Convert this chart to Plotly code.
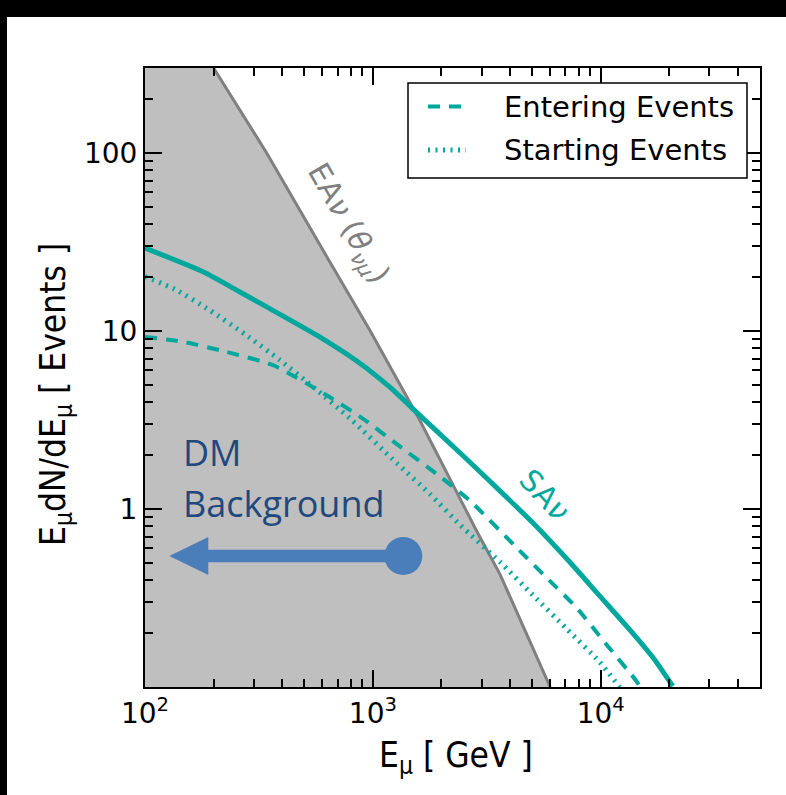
import numpy as np
import plotly.graph_objects as go

# ---------------- data ----------------
# Effective-area boundary EA_nu(theta_nu_mu)
ea_energy = [200, 342, 627, 970, 1607, 2850, 3606, 6000]
ea_events = [300, 100, 26.2, 10.1, 3.15, 0.755, 0.432, 0.1]

# Total signal SA_nu
sa_energy = [100, 180, 261, 391, 586, 877, 1187, 1607, 2481, 3717, 5032, 7096, 9900, 13810, 16900, 20700]
sa_events = [29.2, 21.5, 16.55, 12.4, 9.23, 6.59, 4.83, 3.355, 1.997, 1.22, 0.837, 0.525, 0.3247, 0.2009, 0.1472, 0.101]

# Entering events
ent_energy = [100, 147, 228, 365, 627, 907, 1270, 1903, 2663, 4266, 5779, 7825, 10590, 14340, 14960]
ent_events = [9.26, 8.68, 7.62, 6.42, 4.35, 3.21, 2.32, 1.575, 1.114, 0.608, 0.412, 0.279, 0.1735, 0.108, 0.099]

# Starting events
sta_energy = [100, 135.4, 192.8, 274.5, 391, 556.6, 792.7, 1274, 1778, 2408, 3606, 5032, 7096, 9900, 12110]
sta_events = [20.2, 17.13, 13.05, 9.59, 6.85, 4.76, 3.227, 1.807, 1.215, 0.816, 0.505, 0.329, 0.2117, 0.1379, 0.0997]

x_range = [100, 5e4]
y_range = [0.1, 300]

x_major = [100, 1000, 10000]
x_major_text = ["10<sup>2</sup>", "10<sup>3</sup>", "10<sup>4</sup>"]
y_major = [1, 10, 100]
y_major_text = ["1", "10", "100"]

legend_labels = ["Entering Events", "Starting Events"]

TEAL = "#00A79D"
GREY_LINE = "#808080"
GREY_FILL = "#BFBFBF"
DM_TEXT = "#1F497D"
DM_ARROW = "#4A7EBB"
ENT_DASH = "12px,9px"
STA_DASH = "2px,5.5px"

# ---------------- geometry helpers ----------------
W, H = 786, 795
L, R, T, B = 145, 26, 68, 108
PW, PH = W - L - R, H - T - B


def px(x):
    return (x - L) / PW


def py(y):
    return (H - B - y) / PH


def minor_ticks(lo, hi):
    out = []
    d = 10.0 ** np.floor(np.log10(lo))
    while d < hi:
        for m in range(2, 10):
            v = m * d
            if lo < v < hi:
                out.append(v)
        d *= 10
    return out


fig = go.Figure()

# shaded region below the effective-area boundary
fig.add_trace(go.Scatter(
    x=ea_energy + [x_range[0] * 0.9, x_range[0] * 0.9],
    y=ea_events + [y_range[0] * 0.9, y_range[1] * 1.1],
    fill="toself", fillcolor=GREY_FILL, mode="none",
    showlegend=False, hoverinfo="skip"))
fig.add_trace(go.Scatter(
    x=ea_energy, y=ea_events, mode="lines",
    line=dict(color=GREY_LINE, width=3), showlegend=False))

fig.add_trace(go.Scatter(
    x=sa_energy, y=sa_events, mode="lines",
    line=dict(color=TEAL, width=5, shape="spline", smoothing=0.6)))
fig.add_trace(go.Scatter(
    x=ent_energy, y=ent_events, mode="lines", name=legend_labels[0],
    line=dict(color=TEAL, width=4, dash=ENT_DASH, shape="spline", smoothing=0.6)))
fig.add_trace(go.Scatter(
    x=sta_energy, y=sta_events, mode="lines", name=legend_labels[1],
    line=dict(color=TEAL, width=5, dash=STA_DASH, shape="spline", smoothing=0.6)))

axis_common = dict(
    type="log", showline=True, linecolor="black", linewidth=2,
    mirror="allticks", ticks="inside", ticklen=17, tickwidth=1.5,
    tickcolor="black", showgrid=False, zeroline=False,
    tickfont=dict(family="DejaVu Sans", size=28, color="black"),
)

fig.update_xaxes(
    range=[np.log10(x_range[0]), np.log10(x_range[1])],
    tickmode="array", tickvals=x_major, ticktext=x_major_text,
    minor=dict(tickmode="array", tickvals=minor_ticks(*x_range), ticks="inside",
               ticklen=8, tickwidth=1.5, tickcolor="black", showgrid=False),
    **axis_common)
fig.update_yaxes(
    range=[np.log10(y_range[0]), np.log10(y_range[1])],
    tickmode="array", tickvals=y_major, ticktext=y_major_text,
    minor=dict(tickmode="array", tickvals=minor_ticks(*y_range) + [200], ticks="inside",
               ticklen=8, tickwidth=1.5, tickcolor="black", showgrid=False),
    **axis_common)


def label(text, x, y, size, color, angle=0, family="DejaVu Sans", xanchor="center"):
    return dict(text=text, x=px(x), y=py(y), xref="paper", yref="paper",
                xanchor=xanchor, yanchor="middle", textangle=angle, showarrow=False,
                font=dict(family=family, size=size, color=color))


title_font = "DejaVu Sans Condensed, DejaVu Sans"
annotations = [
    label("E<sub>μ</sub> [ GeV ]", 456, 757, 35, "black", family=title_font),
    label("E<sub>μ</sub>dN/dE<sub>μ</sub> [ Events ]", 55, 395, 35, "black", angle=-90, family=title_font),
    label("EA<i>ν</i> (<i>θ</i><sub><i>νμ</i></sub>)", 347, 224, 30, GREY_LINE, angle=60),
    label("SA<i>ν</i>", 544, 495, 30, TEAL, angle=47),
    label("DM", 181, 453, 36, DM_TEXT, family="Open Sans", xanchor="left"),
    label("Background", 181, 503, 36, DM_TEXT, family="Open Sans", xanchor="left"),
]

# legend box drawn over the axes
leg_x0, leg_x1, leg_y0, leg_y1 = 408, 747, 83, 178
leg_rows = [106.5, 150]
leg_line_x = (428, 466)
leg_text_x = 502
annotations += [label(t, leg_text_x, yy, 29, "black", xanchor="left")
                for t, yy in zip(legend_labels, leg_rows)]

# arrow pointing toward low energies, with a round tail
tip_x, head_x, tail_x, arrow_y = 169.3, 208.3, 403.3, 556
head_h, shaft_h, dot_r = 19, 6.3, 19
arrow_path = (
    f"M {px(tip_x)} {py(arrow_y)} "
    f"L {px(head_x)} {py(arrow_y - head_h)} L {px(head_x)} {py(arrow_y - shaft_h)} "
    f"L {px(tail_x)} {py(arrow_y - shaft_h)} L {px(tail_x)} {py(arrow_y + shaft_h)} "
    f"L {px(head_x)} {py(arrow_y + shaft_h)} L {px(head_x)} {py(arrow_y + head_h)} Z"
)
shapes = [
    dict(type="path", path=arrow_path, xref="paper", yref="paper",
         fillcolor=DM_ARROW, line=dict(width=0)),
    dict(type="circle", xref="paper", yref="paper",
         x0=px(tail_x - dot_r), x1=px(tail_x + dot_r),
         y0=py(arrow_y + dot_r), y1=py(arrow_y - dot_r),
         fillcolor=DM_ARROW, line=dict(width=0)),
    dict(type="rect", xref="paper", yref="paper",
         x0=px(leg_x0), x1=px(leg_x1), y0=py(leg_y1), y1=py(leg_y0),
         fillcolor="white", line=dict(color="black", width=1.5), layer="above"),
    dict(type="line", xref="paper", yref="paper",
         x0=px(leg_line_x[0]), x1=px(leg_line_x[1]), y0=py(leg_rows[0]), y1=py(leg_rows[0]),
         line=dict(color=TEAL, width=4, dash=ENT_DASH), layer="above"),
    dict(type="line", xref="paper", yref="paper",
         x0=px(leg_line_x[0]), x1=px(leg_line_x[1]), y0=py(leg_rows[1]), y1=py(leg_rows[1]),
         line=dict(color=TEAL, width=5, dash=STA_DASH), layer="above"),
    # dark frame bands along the top and left edges of the page
    dict(type="rect", xref="paper", yref="paper", x0=px(0), x1=px(W), y0=py(17), y1=py(0),
         fillcolor="black", line=dict(width=0), layer="above"),
    dict(type="rect", xref="paper", yref="paper", x0=px(0), x1=px(7), y0=py(H), y1=py(0),
         fillcolor="black", line=dict(width=0), layer="above"),
]

fig.update_layout(
    width=W, height=H,
    margin=dict(l=L, r=R, t=T, b=B),
    paper_bgcolor="white", plot_bgcolor="white",
    showlegend=False,
    annotations=annotations,
    shapes=shapes,
)

fig.write_html("out.html")
